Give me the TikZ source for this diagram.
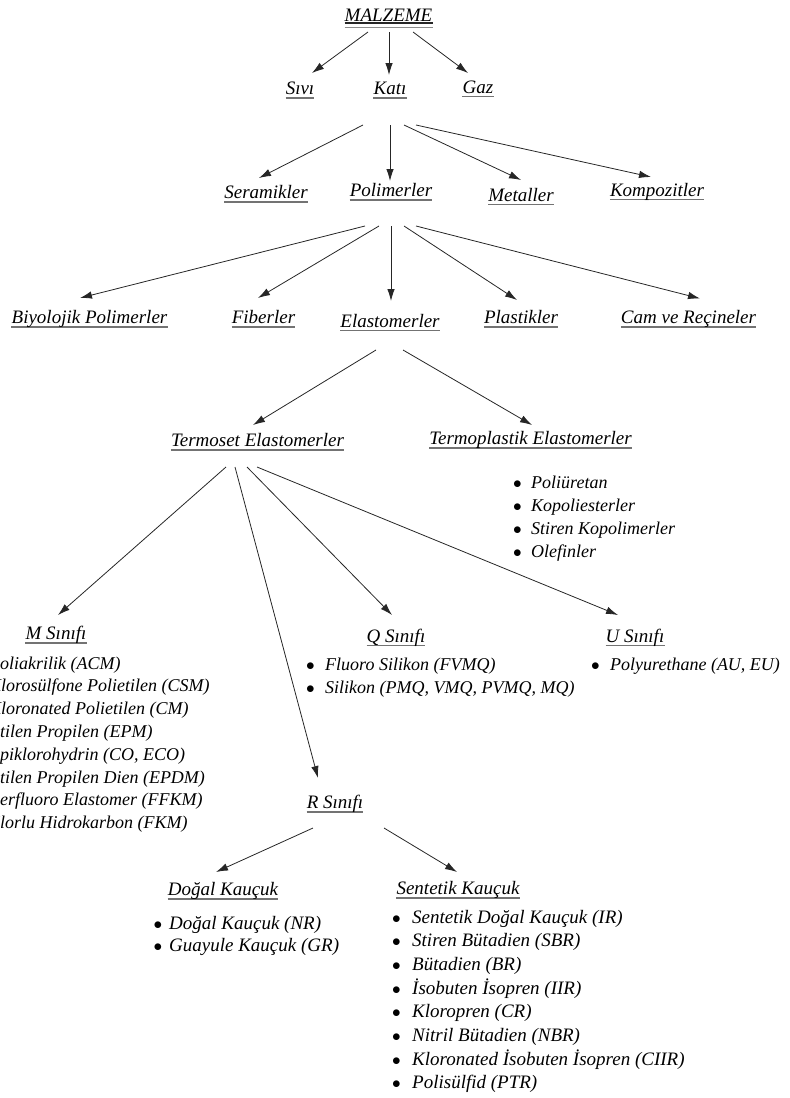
\documentclass[tikz,border=0pt]{standalone}
\usepackage{fontspec}
\setmainfont{Liberation Serif}
\usetikzlibrary{arrows.meta}
\usetikzlibrary{calc}

\newcommand\headfont{\itshape\fontsize{19}{22}\selectfont}
\newcommand\itemfont{\itshape\fontsize{18}{22}\selectfont}
\newcommand\bigitemfont{\itshape\fontsize{19}{22}\selectfont}
\newcommand\bl[1][10pt]{\llap{$\bullet$\hspace{#1}}}

\begin{document}
\begin{tikzpicture}[x=1pt, y=-1pt,
  head/.style={font=\headfont, inner sep=0pt, anchor=base,
    append after command={\pgfextra{\draw[black!55, line width=1.3pt]
      ([yshift=-3.5pt]\tikzlastnode.base west) -- ([yshift=-3.5pt]\tikzlastnode.base east);}}},
  top/.style={font=\headfont, inner sep=0pt, anchor=base,
    append after command={\pgfextra{\draw[black!85, line width=1.2pt]
      ([yshift=-1.5pt]\tikzlastnode.base west) -- ([yshift=-1.5pt]\tikzlastnode.base east);
      \draw[black!45, line width=1.3pt]
      ([yshift=-6pt]\tikzlastnode.base west) -- ([yshift=-6pt]\tikzlastnode.base east);}}},
  item/.style={font=\itemfont, inner sep=0pt, anchor=base west},
  bigitem/.style={font=\bigitemfont, inner sep=0pt, anchor=base west},
  arr/.style={-{Latex[length=12pt,width=7.5pt]}, line width=0.8pt, black!85}]
\useasboundingbox (0,0) rectangle (790,1098);
\clip (0,0) rectangle (790,1098);

\node[top] (malzeme) at (388.5,21.5) {MALZEME};
\node[head] (sivi) at (300,94.5) {Sıvı};
\node[head] (kati) at (390,94.5) {Katı};
\node[head] (gaz) at (478,93) {Gaz};
\draw[arr] ($(malzeme.base)+(-20.5,10.5)$) -- ($(sivi.base)+(12,-21.5)$);
\draw[arr] ($(malzeme.base)+(0.5,10.5)$) -- ($(kati.base)+(-1,-19.5)$);
\draw[arr] ($(malzeme.base)+(24.5,10.5)$) -- ($(gaz.base)+(-10,-20)$);

% kati
\node[head] (seramik) at (266,198.5) {Seramikler};
\node[head] (polimer) at (391,196.5) {Polimerler};
\node[head] (metal) at (521,201) {Metaller};
\node[head] (kompozit) at (657,196) {Kompozitler};
\draw[arr] ($(kati.base)+(-27,30.5)$) -- ($(seramik.base)+(-7,-20.5)$);
\draw[arr] ($(kati.base)+(0,30.5)$) -- ($(polimer.base)+(-1,-15.5)$);
\draw[arr] ($(kati.base)+(14,30.5)$) -- ($(metal.base)+(0,-21)$);
\draw[arr] ($(kati.base)+(26,30.5)$) -- ($(kompozit.base)+(-6,-19)$);

% polimerler
\node[head] (biyo) at (89.5,323.5) {Biyolojik Polimerler};
\node[head] (fiber) at (263.5,323.5) {Fiberler};
\node[head] (elasto) at (390,327) {Elastomerler};
\node[head] (plastik) at (521,323.5) {Plastikler};
\node[head] (cam) at (688.5,323.5) {Cam ve Reçineler};
\draw[arr] ($(polimer.base)+(-26,29.5)$) -- ($(biyo.base)+(-9.5,-25.5)$);
\draw[arr] ($(polimer.base)+(-12,29.5)$) -- ($(fiber.base)+(-5.5,-25.5)$);
\draw[arr] ($(polimer.base)+(0,29.5)$) -- ($(elasto.base)+(1,-26)$);
\draw[arr] ($(polimer.base)+(13,29.5)$) -- ($(plastik.base)+(-4,-23.5)$);
\draw[arr] ($(polimer.base)+(25,29.5)$) -- ($(cam.base)+(11.5,-25)$);

% elastomerler
\node[head] (termoset) at (257.5,446.5) {Termoset Elastomerler};
\node[head] (termoplas) at (530.5,444.5) {Termoplastik Elastomerler};
\draw[arr] ($(elasto.base)+(-14,23)$) -- ($(termoset.base)+(-4.5,-21.5)$);
\draw[arr] ($(elasto.base)+(13,23)$) -- ($(termoplas.base)+(1.5,-19.5)$);

\foreach \t [count=\i from 0] in {Poliüretan, Kopoliesterler, Stiren Kopolimerler, Olefinler}
  \node[item] (tp\i) at (531,488+23*\i) {\bl[9.5pt]\t};

% termoset siniflari
\node[head] (msinif) at (56,639.5) {M Sınıfı};
\node[head] (qsinif) at (396,642) {Q Sınıfı};
\node[head] (usinif) at (635,642) {U Sınıfı};
\node[head] (rsinif) at (335,808.5) {R Sınıfı};
\draw[arr] ($(termoset.base)+(-31.5,20.5)$) -- ($(msinif.base)+(2,-24.5)$);
\draw[arr] ($(termoset.base)+(-22.5,20.5)$) -- ($(rsinif.base)+(-17,-30.5)$);
\draw[arr] ($(termoset.base)+(-10.5,20.5)$) -- ($(qsinif.base)+(-4,-27)$);
\draw[arr] ($(termoset.base)+(-0.5,20.5)$) -- ($(usinif.base)+(-17,-27)$);

\foreach \t [count=\i from 0] in {Poliakrilik (ACM), Klorosülfone Polietilen (CSM),
    Kloronated Polietilen (CM), Etilen Propilen (EPM), {Epiklorohydrin (CO, ECO)},
    Etilen Propilen Dien (EPDM), Perfluoro Elastomer (FFKM), Florlu Hidrokarbon (FKM)}
  \node[item] (mk\i) at (-11,669+22.8*\i) {\bl[10.5pt]\t};

\node[item] (qk0) at (325,670) {\bl[10.5pt]Fluoro Silikon (FVMQ)};
\node[item] (qk1) at (325,693) {\bl[10.5pt]Silikon (PMQ, VMQ, PVMQ, MQ)};
\node[item] (uk0) at (610,670) {\bl[10.5pt]Polyurethane (AU, EU)};

% r sinifi
\node[head] (dogal) at (223,895.5) {Doğal Kauçuk};
\node[head] (sentetik) at (458,894.5) {Sentetik Kauçuk};
\draw[arr] ($(rsinif.base)+(-22,19.5)$) -- ($(dogal.base)+(-7,-23.5)$);
\draw[arr] ($(rsinif.base)+(49,19.5)$) -- ($(sentetik.base)+(-1,-22.5)$);

\node[bigitem] (dk0) at (169,929) {\bl[7pt]Doğal Kauçuk (NR)};
\node[bigitem] (dk1) at (169,951) {\bl[7pt]Guayule Kauçuk (GR)};

\foreach \t [count=\i from 0] in {Sentetik Doğal Kauçuk (IR), Stiren Bütadien (SBR),
    Bütadien (BR), İsobuten İsopren (IIR), Kloropren (CR), Nitril Bütadien (NBR),
    Kloronated İsobuten İsopren (CIIR), Polisülfid (PTR)}
  \node[bigitem] (sk\i) at (412,923+23.7*\i) {\bl[11.5pt]\t};

\end{tikzpicture}
\end{document}
